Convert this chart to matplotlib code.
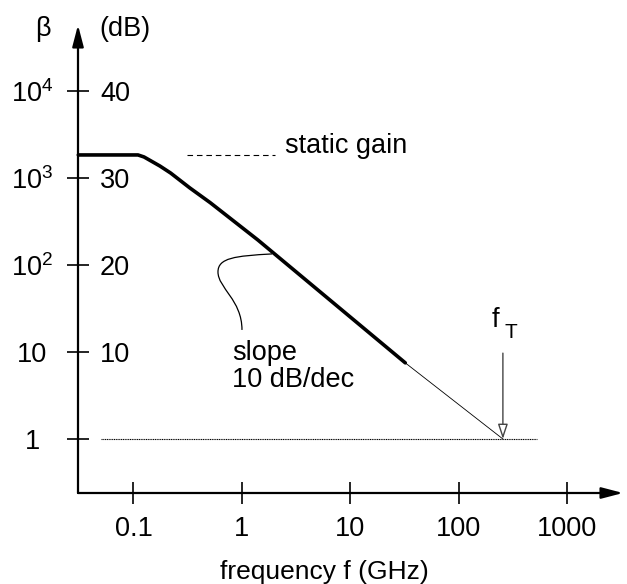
import matplotlib
matplotlib.use("Agg")

import matplotlib.pyplot as plt
from matplotlib.path import Path
from matplotlib.patches import PathPatch
from matplotlib.transforms import IdentityTransform
from matplotlib.ticker import NullLocator

plt.rcParams["font.family"] = ["Liberation Sans", "DejaVu Sans"]
plt.rcParams["mathtext.fontset"] = "custom"
plt.rcParams["mathtext.rm"] = "Liberation Sans"
plt.rcParams["mathtext.it"] = "Liberation Sans:italic"

# Current gain curve (GHz, beta)
freq = [0.031, 0.11, 0.125, 0.14, 0.175, 0.22, 0.33, 0.51, 1.4, 32]
beta = [1840, 1840, 1745, 1610, 1374, 1140, 770, 520, 194, 7.5]
# thin extrapolation down to beta = 1
freq_ext = [32, 254]
beta_ext = [7.5, 1]
f_t = 254
static_gain = 1840
unity_span = [0.05, 524]        # extent of the beta = 1 reference line
static_span = [0.311, 2.01]     # extent of the dashed static gain marker
slope_anchor = (1.89, 134)      # point on the curve where the slope note attaches

xticks = [0.1, 1, 10, 100, 1000]
xtick_labels = ["0.1", "1", "10", "100", "1000"]
yticks = [1, 10, 100, 1000, 10000]
ytick_labels = ["1", "10", r"$10^2$", r"$10^3$", r"$10^4$"]
db_labels = ["", "10", "20", "30", "40"]

FS = 19.5

fig = plt.figure(figsize=(6.27, 5.84), dpi=100, facecolor="white")
ax = fig.add_axes([78 / 627, (584 - 493) / 584, (623 - 78) / 627, (493 - 25) / 584])
ax.set_xscale("log")
ax.set_yscale("log")
ax.set_xlim(0.0308, 3250)
ax.set_ylim(0.2394, 57350)
for s in ax.spines.values():
    s.set_visible(False)

# Axes with arrow heads
arrow_kw = dict(arrowstyle="-|>,head_length=0.65,head_width=0.17",
                lw=1.6, color="black", shrinkA=0, shrinkB=0, mutation_scale=20)
ax.annotate("", xy=(1, 0), xytext=(0, 0), xycoords="axes fraction",
            textcoords="axes fraction", arrowprops=arrow_kw)
ax.annotate("", xy=(0, 1), xytext=(0, 0), xycoords="axes fraction",
            textcoords="axes fraction", arrowprops=arrow_kw)

# Ticks
ax.set_xticks(xticks)
ax.set_xticklabels(xtick_labels)
ax.set_yticks(yticks)
ax.set_yticklabels(ytick_labels)
ax.xaxis.set_minor_locator(NullLocator())
ax.yaxis.set_minor_locator(NullLocator())
ax.tick_params(axis="both", direction="inout", length=15.8, width=1.2,
               labelsize=FS, colors="black")
ax.tick_params(axis="x", pad=8.5)
ax.tick_params(axis="y", pad=25.2)
for lbl in ax.get_yticklabels():
    lbl.set_horizontalalignment("center")

# dB labels on the inner side of the vertical axis
for yv, lab in zip(yticks, db_labels):
    if not lab:
        continue
    ax.annotate(lab, xy=(0, yv), xycoords=("axes fraction", "data"),
                xytext=(22, 0), textcoords="offset pixels",
                ha="left", va="center_baseline", fontsize=FS)

ax.annotate("β", xy=(0, 1), xycoords="axes fraction", xytext=(-35, -4),
            textcoords="offset pixels", ha="center", va="center", fontsize=FS)
ax.annotate("(dB)", xy=(0, 1), xycoords="axes fraction", xytext=(21, -4),
            textcoords="offset pixels", ha="left", va="center", fontsize=FS)

# Curve
ax.plot(freq, beta, color="black", lw=2.6, solid_capstyle="round",
        solid_joinstyle="round", clip_on=False, zorder=4)
ax.plot(freq_ext, beta_ext, color="black", lw=0.6, zorder=3)

# beta = 1 reference
ax.plot(unity_span, [1, 1], color="black", lw=0.8, ls=(0, (1, 0.6)), zorder=2)

# static gain marker
ax.plot(static_span, [static_gain, static_gain], color="black", lw=0.8,
        dashes=(5, 3.5))
ax.annotate("static gain", xy=(static_span[1], static_gain),
            xytext=(10, 9), textcoords="offset pixels",
            ha="left", va="center", fontsize=FS)

# f_T arrow
ax.annotate("", xy=(f_t, 1), xytext=(f_t, 9.7),
            arrowprops=dict(arrowstyle="-|>,head_length=0.45,head_width=0.15",
                            lw=1.0, color="#444444", fc="white",
                            shrinkA=0, shrinkB=0, mutation_scale=20))
ax.annotate("f", xy=(f_t, 1), xytext=(-7, 119), textcoords="offset pixels",
            ha="center", va="center", fontsize=FS)
ax.annotate("T", xy=(f_t, 1), xytext=(8, 106), textcoords="offset pixels",
            ha="center", va="center", fontsize=15)

# slope annotation
ax.annotate("slope\n10 dB/dec", xy=slope_anchor, xytext=(-40, -113),
            textcoords="offset pixels", ha="left", va="center",
            fontsize=FS, linespacing=1.05)
fig.canvas.draw()
x0, y0 = ax.transData.transform(slope_anchor)
offs = [(0, 0), (-37, -2), (-54, -4), (-54, -18),
        (-54, -34), (-30, -46), (-30, -76)]
verts = [(x0 + dx, y0 + dy) for dx, dy in offs]
codes = [Path.MOVETO] + [Path.CURVE4] * 6
ax.add_patch(PathPatch(Path(verts, codes), transform=IdentityTransform(),
                       fill=False, lw=0.9, color="black"))

# x label
ax.text((324 - 78) / 545, (493 - 572) / 468, "frequency f (GHz)",
        transform=ax.transAxes, ha="center", va="center", fontsize=19)

fig.savefig("out.png", dpi=100, facecolor="white")
